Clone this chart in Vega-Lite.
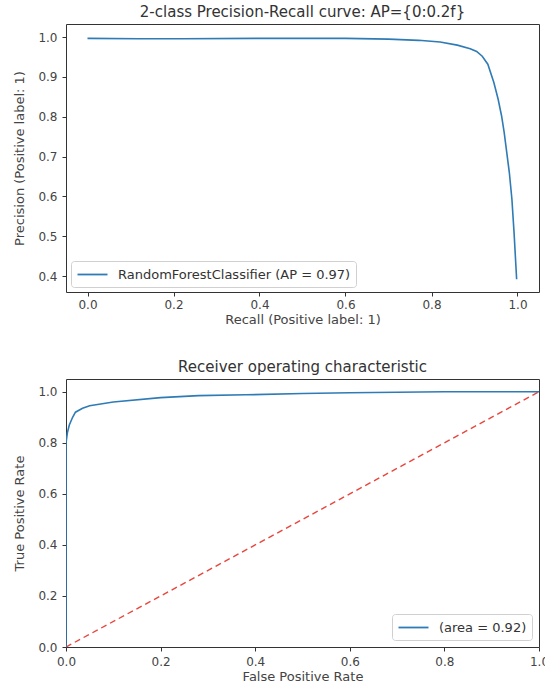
{
  "$schema": "https://vega.github.io/schema/vega-lite/v6.json",
  "padding": {"left": 13, "top": 4, "right": 4, "bottom": 0},
  "background": "white",
  "datasets": {
    "pr": [
      {"i": 0, "recall": 0.0, "precision": 0.997, "series": "RandomForestClassifier (AP = 0.97)"},
      {"i": 1, "recall": 0.12, "precision": 0.996, "series": "RandomForestClassifier (AP = 0.97)"},
      {"i": 2, "recall": 0.22, "precision": 0.996, "series": "RandomForestClassifier (AP = 0.97)"},
      {"i": 3, "recall": 0.4, "precision": 0.997, "series": "RandomForestClassifier (AP = 0.97)"},
      {"i": 4, "recall": 0.6, "precision": 0.997, "series": "RandomForestClassifier (AP = 0.97)"},
      {"i": 5, "recall": 0.7, "precision": 0.995, "series": "RandomForestClassifier (AP = 0.97)"},
      {"i": 6, "recall": 0.77, "precision": 0.992, "series": "RandomForestClassifier (AP = 0.97)"},
      {"i": 7, "recall": 0.82, "precision": 0.988, "series": "RandomForestClassifier (AP = 0.97)"},
      {"i": 8, "recall": 0.86, "precision": 0.98, "series": "RandomForestClassifier (AP = 0.97)"},
      {"i": 9, "recall": 0.89, "precision": 0.971, "series": "RandomForestClassifier (AP = 0.97)"},
      {"i": 10, "recall": 0.905, "precision": 0.964, "series": "RandomForestClassifier (AP = 0.97)"},
      {"i": 11, "recall": 0.918, "precision": 0.952, "series": "RandomForestClassifier (AP = 0.97)"},
      {"i": 12, "recall": 0.931, "precision": 0.932, "series": "RandomForestClassifier (AP = 0.97)"},
      {"i": 13, "recall": 0.945, "precision": 0.886, "series": "RandomForestClassifier (AP = 0.97)"},
      {"i": 14, "recall": 0.955, "precision": 0.844, "series": "RandomForestClassifier (AP = 0.97)"},
      {"i": 15, "recall": 0.963, "precision": 0.802, "series": "RandomForestClassifier (AP = 0.97)"},
      {"i": 16, "recall": 0.969, "precision": 0.761, "series": "RandomForestClassifier (AP = 0.97)"},
      {"i": 17, "recall": 0.974, "precision": 0.719, "series": "RandomForestClassifier (AP = 0.97)"},
      {"i": 18, "recall": 0.981, "precision": 0.66, "series": "RandomForestClassifier (AP = 0.97)"},
      {"i": 19, "recall": 0.987, "precision": 0.593, "series": "RandomForestClassifier (AP = 0.97)"},
      {"i": 20, "recall": 0.992, "precision": 0.509, "series": "RandomForestClassifier (AP = 0.97)"},
      {"i": 21, "recall": 0.998, "precision": 0.392, "series": "RandomForestClassifier (AP = 0.97)"}
    ],
    "roc": [
      {"i": 0, "fpr": 0.0, "tpr": 0.0, "series": "(area = 0.92)"},
      {"i": 1, "fpr": 0.0, "tpr": 0.8, "series": "(area = 0.92)"},
      {"i": 2, "fpr": 0.003, "tpr": 0.84, "series": "(area = 0.92)"},
      {"i": 3, "fpr": 0.007, "tpr": 0.87, "series": "(area = 0.92)"},
      {"i": 4, "fpr": 0.014, "tpr": 0.9, "series": "(area = 0.92)"},
      {"i": 5, "fpr": 0.02, "tpr": 0.92, "series": "(area = 0.92)"},
      {"i": 6, "fpr": 0.035, "tpr": 0.935, "series": "(area = 0.92)"},
      {"i": 7, "fpr": 0.05, "tpr": 0.945, "series": "(area = 0.92)"},
      {"i": 8, "fpr": 0.1, "tpr": 0.96, "series": "(area = 0.92)"},
      {"i": 9, "fpr": 0.2, "tpr": 0.977, "series": "(area = 0.92)"},
      {"i": 10, "fpr": 0.28, "tpr": 0.985, "series": "(area = 0.92)"},
      {"i": 11, "fpr": 0.38, "tpr": 0.988, "series": "(area = 0.92)"},
      {"i": 12, "fpr": 0.5, "tpr": 0.993, "series": "(area = 0.92)"},
      {"i": 13, "fpr": 0.6, "tpr": 0.996, "series": "(area = 0.92)"},
      {"i": 14, "fpr": 0.7, "tpr": 0.998, "series": "(area = 0.92)"},
      {"i": 15, "fpr": 0.8, "tpr": 1.0, "series": "(area = 0.92)"},
      {"i": 16, "fpr": 1.0, "tpr": 1.0, "series": "(area = 0.92)"}
    ],
    "diag": [
      {"fpr": 0.0, "tpr": 0.0},
      {"fpr": 1.0, "tpr": 1.0}
    ]
  },
  "resolve": {"scale": {"color": "independent"}, "legend": {"color": "independent"}},
  "vconcat": [
    {
      "width": 473,
      "height": 268,
      "title": "2-class Precision-Recall curve: AP={0:0.2f}",
      "data": {"name": "pr"},
      "mark": {"type": "line", "strokeWidth": 1.6, "clip": true},
      "encoding": {
        "x": {
          "field": "recall", "type": "quantitative",
          "scale": {"domain": [-0.05, 1.05], "nice": false, "zero": false},
          "axis": {"values": [0, 0.2, 0.4, 0.6, 0.8, 1.0], "format": ".1f", "title": "Recall (Positive label: 1)", "labelPadding": 3, "titlePadding": 3}
        },
        "y": {
          "field": "precision", "type": "quantitative",
          "scale": {"domain": [0.36, 1.033], "nice": false, "zero": false},
          "axis": {"values": [0.4, 0.5, 0.6, 0.7, 0.8, 0.9, 1.0], "format": ".1f", "title": "Precision (Positive label: 1)", "labelPadding": 5, "titlePadding": 11}
        },
        "order": {"field": "i"},
        "color": {
          "field": "series", "type": "nominal",
          "scale": {"range": ["#2f7bb5"]},
          "legend": {"title": null, "orient": "bottom-left", "offset": 5}
        }
      }
    },
    {
      "width": 473,
      "height": 268,
      "title": "Receiver operating characteristic",
      "layer": [
        {
          "data": {"name": "diag"},
          "mark": {"type": "line", "color": "#e8453c", "strokeDash": [6, 4], "strokeWidth": 1.4, "clip": true},
          "encoding": {
            "x": {"field": "fpr", "type": "quantitative"},
            "y": {"field": "tpr", "type": "quantitative"}
          }
        },
        {
          "data": {"name": "roc"},
          "mark": {"type": "line", "strokeWidth": 1.6, "clip": true},
          "encoding": {
            "x": {"field": "fpr", "type": "quantitative"},
            "y": {"field": "tpr", "type": "quantitative"},
            "order": {"field": "i"},
            "color": {
              "field": "series", "type": "nominal",
              "scale": {"range": ["#2f7bb5"]},
              "legend": {"title": null, "orient": "bottom-right", "offset": 7}
            }
          }
        }
      ],
      "encoding": {
        "x": {
          "field": "fpr", "type": "quantitative",
          "scale": {"domain": [0, 1], "nice": false},
          "axis": {"values": [0, 0.2, 0.4, 0.6, 0.8, 1.0], "format": ".1f", "title": "False Positive Rate", "labelFlush": false, "labelPadding": 5, "titlePadding": 3}
        },
        "y": {
          "field": "tpr", "type": "quantitative",
          "scale": {"domain": [0, 1.05], "nice": false},
          "axis": {"values": [0, 0.2, 0.4, 0.6, 0.8, 1.0], "format": ".1f", "title": "True Positive Rate", "labelFlush": false, "labelPadding": 5, "titlePadding": 11}
        }
      }
    }
  ],
  "config": {
    "font": "DejaVu Sans",
    "view": {"stroke": "#333", "strokeWidth": 1},
    "concat": {"spacing": 32},
    "axis": {
      "grid": false,
      "domain": false,
      "tickColor": "#333",
      "tickSize": 4,
      "labelFont": "DejaVu Sans",
      "labelFontSize": 12,
      "labelColor": "#444",
      "labelBound": false,
      "titleFont": "DejaVu Sans",
      "titleFontSize": 13,
      "titleFontWeight": "normal",
      "titleColor": "#444"
    },
    "title": {"fontSize": 15, "fontWeight": "normal", "color": "#333", "offset": 4, "font": "DejaVu Sans"},
    "legend": {
      "symbolType": "M-2,0H2",
      "symbolStrokeWidth": 1.8,
      "symbolSize": 225,
      "symbolOffset": 8,
      "labelFontSize": 13,
      "labelLimit": 400,
      "labelColor": "#333",
      "labelFont": "DejaVu Sans",
      "labelOffset": 17,
      "fillColor": "white",
      "strokeColor": "#d0d0d0",
      "cornerRadius": 3,
      "padding": 5
    }
  }
}
